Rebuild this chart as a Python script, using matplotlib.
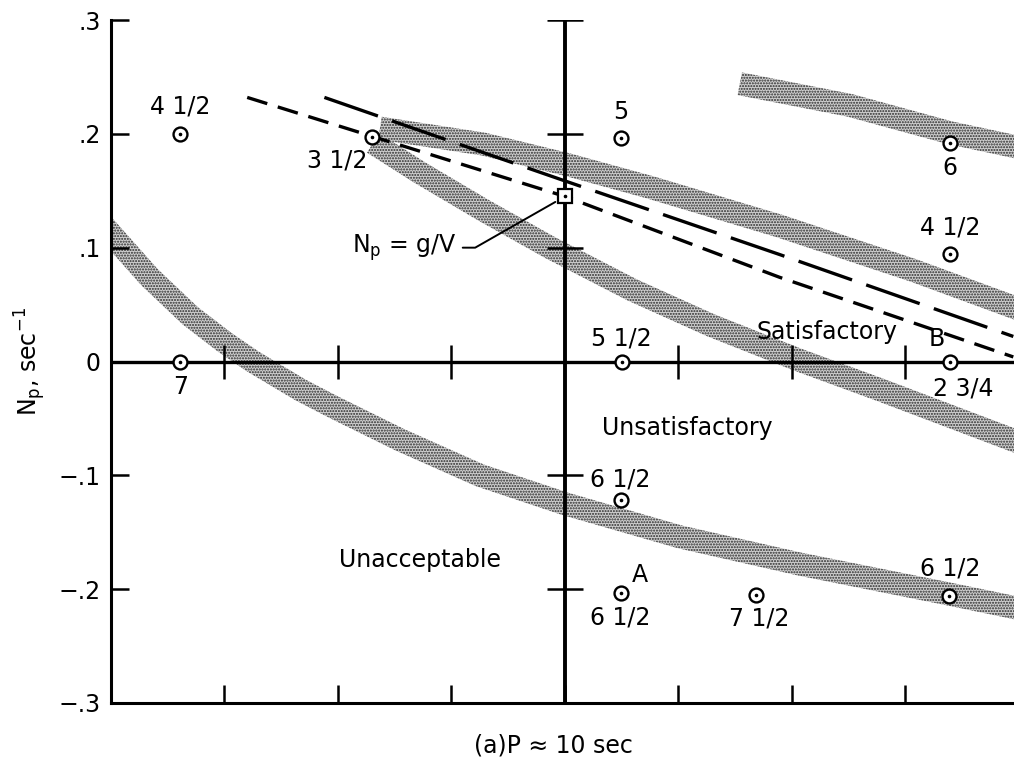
import numpy as np
import matplotlib
matplotlib.use("Agg")
import matplotlib.pyplot as plt

# rated points (pilot ratings)
pt_x = [-3.39, -1.70, 0.49, 3.39, 3.39, -3.39, 0.50, 3.39, 0.49, 0.49, 1.68, 3.38]
pt_y = [0.200, 0.197, 0.196, 0.192, 0.094, 0.0, 0.0, 0.0, -0.122, -0.203, -0.205, -0.206]
pt_labels = [["4 1/2"], ["3 1/2"], ["5"], ["6"], ["4 1/2"], ["7"], ["5 1/2"],
             ["B", "2 3/4"], ["6 1/2"], ["A", "6 1/2"], ["7 1/2"], ["6 1/2"]]
# label offsets in pixels (dx, dy) for each label above
label_off = [[(0, 27)], [(-35, -23)], [(0, 26)], [(0, -25)], [(0, 27)], [(0, -25)],
             [(0, 23)], [(-13, 22), (13, -27)], [(0, 21)], [(19, 18), (0, -25)],
             [(4, -24)], [(2, 27)]]

# N_p = g/V point
gv_x, gv_y = 0.0, 0.145

# dashed boundaries
long_x = [-2.12, -0.04, 1.89, 3.95]
long_y = [0.232, 0.160, 0.094, 0.022]
short_x = [-2.80, 0.0, 1.89, 3.95]
short_y = [0.232, 0.145, 0.074, 0.004]

# shaded boundary bands (centre lines)
band_a_x = [1.54, 2.51, 3.39, 4.00]
band_a_y = [0.244, 0.225, 0.201, 0.188]
band_b_x = [-1.63, -0.72, 0.02, 0.75, 1.89, 3.07, 4.00]
band_b_y = [0.205, 0.191, 0.173, 0.153, 0.119, 0.080, 0.046]
band_c_x = [-1.69, -1.28, -0.72, -0.13, 0.59, 1.28, 2.04, 2.78, 4.00]
band_c_y = [0.192, 0.166, 0.133, 0.100, 0.063, 0.032, 0.002, -0.025, -0.071]
band_d_x = [-4.08, -3.66, -3.30, -3.00, -2.75, -2.33, -2.04, -1.45, -0.75,
            0.0, 1.01, 2.07, 3.37, 4.00]
band_d_y = [0.121, 0.074, 0.040, 0.017, 0.000, -0.025, -0.040, -0.069, -0.100,
            -0.125, -0.154, -0.178, -0.204, -0.217]

yticks = [0.3, 0.2, 0.1, 0.0, -0.1, -0.2, -0.3]
ytick_labels = [".3", ".2", ".1", "0", "\u2212.1", "\u2212.2", "\u2212.3"]
xticks = [-3, -2, -1, 0, 1, 2, 3]

regions = ["Satisfactory", "Unsatisfactory", "Unacceptable"]
region_x = [2.31, 1.08, -1.28]
region_y = [0.026, -0.058, -0.174]

fig = plt.figure(figsize=(10.14, 7.66), dpi=100)
ax = fig.add_axes([111 / 1014, 63 / 766, 903 / 1014, 683 / 766])
ax.set_xlim(-4, 3.956)
ax.set_ylim(-0.3, 0.3)

for s in ["top", "right"]:
    ax.spines[s].set_visible(False)
for s in ["left", "bottom"]:
    ax.spines[s].set_linewidth(2.2)

ax.set_yticks(yticks)
ax.set_yticklabels(ytick_labels)
ax.set_xticks(xticks)
ax.tick_params(axis="y", direction="in", length=13, width=1.8, labelsize=17, pad=7.5)
ax.tick_params(axis="x", direction="in", length=13, width=1.8, labelbottom=False)


def band(xs, ys, w=23):
    pts = ax.transData.transform(np.column_stack([xs, ys]))
    d = np.gradient(pts, axis=0)
    n = np.column_stack([-d[:, 1], d[:, 0]])
    n /= np.linalg.norm(n, axis=1)[:, None]
    poly = np.vstack([pts + n * w / 2, (pts - n * w / 2)[::-1]])
    dat = ax.transData.inverted().transform(poly)
    ax.fill(dat[:, 0], dat[:, 1], facecolor="#cfcfcf", edgecolor="#2a2a2a",
            hatch="......", linewidth=0, zorder=1)


for bx, by in [(band_a_x, band_a_y), (band_b_x, band_b_y),
               (band_c_x, band_c_y), (band_d_x, band_d_y)]:
    band(bx, by)

# axis cross lines with their ticks
ax.axhline(0, color="k", lw=2.4, zorder=2)
ax.axvline(0, color="k", lw=2.8, zorder=2)
cross_y = [v for v in yticks if v not in (0.0, -0.3)]
ax.plot(np.zeros(len(cross_y)), cross_y, ls="none", marker="_", ms=26, mew=1.8,
        color="k", zorder=2)
cross_x = [v for v in xticks if v != 0]
ax.plot(cross_x, np.zeros(len(cross_x)), ls="none", marker="|", ms=25, mew=1.8,
        color="k", zorder=2)

# dashed lines
ax.plot(long_x, long_y, color="k", lw=2.4, dashes=(17, 4.5), zorder=3)
ax.plot(short_x, short_y, color="k", lw=2.4, dashes=(6.3, 3.3), zorder=3)

# data points
ax.plot(pt_x, pt_y, ls="none", marker="o", ms=10, mfc="white", mec="k", mew=1.7, zorder=4)
ax.plot(pt_x, pt_y, ls="none", marker="o", ms=1.6, color="k", zorder=5)
for x, y, labs, offs in zip(pt_x, pt_y, pt_labels, label_off):
    for t, (dx, dy) in zip(labs, offs):
        ax.annotate(t, (x, y), xytext=(dx, dy), textcoords="offset pixels",
                    ha="center", va="center", fontsize=17)

# N_p = g/V
ax.plot([gv_x], [gv_y], ls="none", marker="s", ms=9.5, mfc="white", mec="k", mew=1.6, zorder=4)
ax.plot([gv_x], [gv_y], ls="none", marker="o", ms=1.6, color="k", zorder=5)
ax.annotate(r"$\mathregular{N_p}$ = g/V", (gv_x, gv_y), xytext=(-0.95, 0.100),
            textcoords="data", ha="right", va="center", fontsize=17,
            arrowprops=dict(arrowstyle="-", lw=1.4, color="k", relpos=(1, 0.5),
                            connectionstyle="arc,angleA=0,armA=18,angleB=0,armB=0,rad=0",
                            shrinkA=2, shrinkB=8))

for t, x, y in zip(regions, region_x, region_y):
    ax.text(x, y, t, ha="center", va="center", fontsize=17)

ax.set_ylabel(r"$\mathregular{N_p}$, sec$^{\mathregular{-1}}$", fontsize=17)
ax.yaxis.set_label_coords(-0.070, 0.5)
ax.set_xlabel("(a)P \u2248 10 sec", fontsize=17)
ax.xaxis.set_label_coords(0.49, -0.045)

fig.savefig("out.png", dpi=100)
